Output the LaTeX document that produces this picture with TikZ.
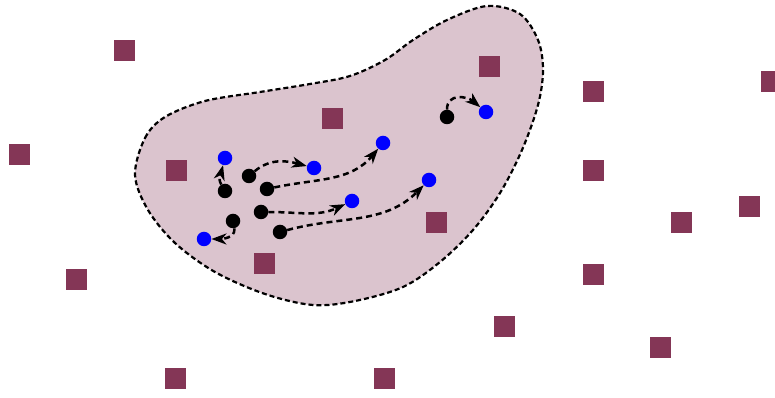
\documentclass[tikz,border=0pt]{standalone}
\usetikzlibrary{arrows.meta}
\definecolor{sq}{RGB}{132,54,86}
\definecolor{blob}{RGB}{219,196,206}
\tikzset{
  sqr/.style={fill=sq, minimum size=21pt, inner sep=0pt},
  src/.style={circle, fill=black, minimum size=14.5pt, inner sep=0pt},
  tgt/.style={circle, fill=blue, minimum size=14.5pt, inner sep=0pt},
  mv/.style={line width=2.5pt, dash pattern=on 6pt off 4pt, -{Stealth[length=15pt,width=11pt,inset=4.5pt]}},
  region/.style={fill=blob, draw=black, line width=2.2pt, dash pattern=on 5pt off 3pt}
}
\begin{document}
\begin{tikzpicture}[x=1pt,y=1pt]
\useasboundingbox (0,0) rectangle (775,398);
\draw[region] plot[smooth cycle, tension=0.55] coordinates {
 (135,223) (145,260) (165,281) (205,297) (260,306) (310,314) (350,322)
 (385,338) (413,358) (447,378) (487,392) (520,384) (538,358) (543,328)
 (538,293) (522,248) (500,205) (473,168) (440,136) (403,111) (355,97)
 (313,93) (265,104) (215,126) (175,155) (148,188)};
% squares
\node[sqr] (s1) at (124,347) {};
\node[sqr] (s2) at (19,243) {};
\node[sqr] (s3) at (76,118) {};
\node[sqr] (s4) at (175,19) {};
\node[sqr] (s5) at (176,227) {};
\node[sqr] (s6) at (332,279) {};
\node[sqr] (s7) at (264,134) {};
\node[sqr] (s8) at (489,331) {};
\node[sqr] (s9) at (436,175) {};
\node[sqr] (s10) at (384,19) {};
\node[sqr] (s11) at (504,71) {};
\node[sqr] (s12) at (593,306) {};
\node[sqr] (s13) at (593,227) {};
\node[sqr] (s14) at (593,123) {};
\node[sqr] (s15) at (681,175) {};
\node[sqr] (s16) at (749,191) {};
\node[sqr] (s17) at (771,316) {};
\node[sqr] (s18) at (660,50) {};
% dots
\node[src] (b1) at (225,207) {};
\node[src] (b2) at (249,222) {};
\node[src] (b3) at (267,209) {};
\node[src] (b4) at (261,186) {};
\node[src] (b5) at (280,166) {};
\node[src] (b6) at (233,177) {};
\node[src] (b7) at (447,281) {};
\node[tgt] (t1) at (225,240) {};
\node[tgt] (t2) at (314,230) {};
\node[tgt] (t3) at (383,255) {};
\node[tgt] (t4) at (352,197) {};
\node[tgt] (t5) at (429,218) {};
\node[tgt] (t6) at (204,159) {};
\node[tgt] (t7) at (486,286) {};
% moves
\draw[mv] (b1) to[out=120,in=-105] (t1);
\draw[mv] (b2) to[out=40,in=165] (t2);
\draw[mv] (b3) to[out=12,in=-130] (t3);
\draw[mv] (b4) to[out=0,in=-155] (t4);
\draw[mv] (b5) to[out=15,in=-135] (t5);
\draw[mv] (b6) to[out=-80,in=0] (t6);
\draw[mv] (b7) to[out=90,in=140,looseness=1.3] (t7);
\end{tikzpicture}
\end{document}
